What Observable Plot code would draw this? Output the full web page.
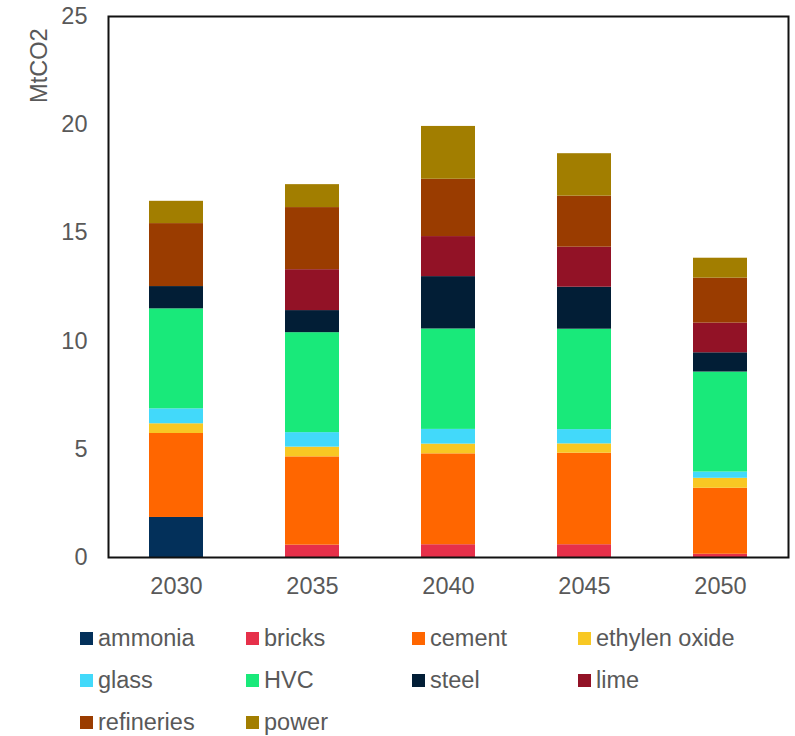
<!DOCTYPE html>
<html>
<head>
<meta charset="utf-8">
<script src="https://cdn.jsdelivr.net/npm/d3@7"></script>
<script src="https://cdn.jsdelivr.net/npm/@observablehq/plot@0.6"></script>
<style>
  html, body { margin: 0; padding: 0; background: #fff; }
  body { width: 795px; height: 736px; overflow: hidden; font-family: "Liberation Sans", Arial, sans-serif; }
  #legend { margin-top: 17px; padding-left: 80px; display: grid; grid-template-columns: repeat(4, 166px); grid-auto-rows: 42px; }
  .item { display: flex; align-items: center; font-size: 23.5px; color: #595959; white-space: nowrap; }
  .swatch { width: 13px; height: 13px; margin-right: 5px; flex: none; }
</style>
</head>
<body>
<div id="chart"></div>
<div id="legend"></div>
<script>
// Years on the x axis
const years = ["2030", "2035", "2040", "2045", "2050"];

// Sectors, stacked bottom to top, and their colours
const sectors = ["ammonia", "bricks", "cement", "ethylen oxide", "glass", "HVC", "steel", "lime", "refineries", "power"];
const colors = ["#03305a", "#e6304a", "#ff6600", "#f8c823", "#42d9fa", "#19e97a", "#021e36", "#921226", "#9a3c00", "#a27e00"];

// Emissions per sector (MtCO2), one value per year
const ammonia      = [1.85, 0,    0,    0,    0];
const bricks       = [0,    0.57, 0.59, 0.59, 0.15];
const cement       = [3.88, 4.08, 4.20, 4.23, 3.05];
const ethylenOxide = [0.45, 0.45, 0.45, 0.43, 0.46];
const glass        = [0.69, 0.67, 0.68, 0.66, 0.29];
const hvc          = [4.62, 4.62, 4.64, 4.64, 4.62];
const steel        = [1.03, 1.02, 2.42, 1.94, 0.89];
const lime         = [0,    1.89, 1.85, 1.85, 1.37];
const refineries   = [2.91, 2.87, 2.65, 2.36, 2.08];
const power        = [1.03, 1.06, 2.44, 1.96, 0.92];

// y axis ticks
const yTicks = [0, 5, 10, 15, 20, 25];

const series = [ammonia, bricks, cement, ethylenOxide, glass, hvc, steel, lime, refineries, power];

// Long table: one row per sector and year
const rows = [];
sectors.forEach((s, i) => {
  years.forEach((y, j) => rows.push({sector: s, year: y, value: series[i][j]}));
});

const textColor = "#595959";

const chart = Plot.plot({
  width: 795,
  height: 600,
  marginLeft: 108,
  marginRight: 7,
  marginTop: 16,
  marginBottom: 43,
  style: {fontFamily: "'Liberation Sans', Arial, sans-serif", fontSize: "23px", color: textColor, background: "#fff"},
  x: {domain: years, paddingInner: 0.6, paddingOuter: 0.3, label: null},
  y: {domain: [0, 25], label: null},
  color: {domain: sectors, range: colors},
  marks: [
    Plot.barY(rows, {x: "year", y: "value", fill: "sector", order: sectors}),
    Plot.axisX({tickSize: 0, tickPadding: 20, label: null, fontSize: 23.5, fill: textColor}),
    Plot.axisY({ticks: yTicks, tickSize: 0, tickPadding: 21, label: null, fontSize: 23.5, fill: textColor}),
    Plot.text(["MtCO2"], {
      frameAnchor: "top-left", text: d => d, rotate: -90, textAnchor: "end",
      dx: -78, dy: 12, fontSize: 23.5, fill: textColor
    }),
    Plot.frame({stroke: "#111", strokeWidth: 2})
  ]
});
document.getElementById("chart").appendChild(chart);

// Legend below the chart
const legend = d3.select("#legend");
sectors.forEach((s, i) => {
  const item = legend.append("div").attr("class", "item");
  item.append("span").attr("class", "swatch").style("background", colors[i]);
  item.append("span").text(s);
});
</script>
</body>
</html>
